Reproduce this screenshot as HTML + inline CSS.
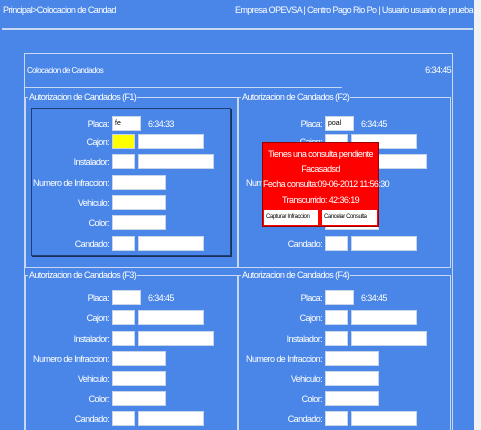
<!DOCTYPE html>
<html><head><meta charset="utf-8"><style>
*{margin:0;padding:0;box-sizing:border-box}
html{width:481px;height:430px;overflow:hidden}
body{width:481px;height:430px;overflow:hidden;background:#4a86e8;font-family:"Liberation Sans",sans-serif;color:#fff;position:relative}
.t{position:absolute;font-size:9px;white-space:nowrap;letter-spacing:-0.6px;line-height:10px}
.r{text-align:right}
.in{position:absolute;background:#fff;border:1px solid #c8d4e8;height:15px}
.ln{position:absolute;background:#c9d8f2}
.fs{position:absolute;border:1px solid #c9d8f2}
.lg{position:absolute;font-size:9px;letter-spacing:-0.6px;background:#4a86e8;padding:0 1px;line-height:10px;white-space:nowrap}
</style></head><body>
<div class="t" style="left:3px;top:5px">Principal&gt;Colocacion de Candad</div>
<div class="t r" style="right:8px;top:5px">Empresa OPEVSA | Centro Pago Rio Po | Usuario usuario de prueba</div>
<div class="ln" style="left:2px;top:28px;width:471px;height:2px"></div>
<div style="position:absolute;left:474px;top:0;width:7px;height:430px;background:#f2f2f2"></div>
<div class="fs" style="left:24px;top:53px;width:429px;height:380px"></div>
<div class="t" style="left:27px;top:66px;font-size:8px">Colocacion de Candados</div>
<div class="t r" style="right:30px;top:65px">6:34:45</div>
<div class="ln" style="left:24px;top:87px;width:318px;height:1px"></div>
<div id="root"></div>
<div id="popup" style="position:absolute;left:262px;top:142px;width:117px;height:85px;background:#f00;border:1px solid #900">
<div class="t" style="position:absolute;left:0;width:115px;text-align:center;top:6px">Tienes una consulta pendiente</div>
<div class="t" style="position:absolute;left:0;width:115px;text-align:center;top:21px">Facasadsd</div>
<div class="t" style="position:absolute;left:0;width:115px;text-align:center;top:36px">Fecha consulta:09-06-2012 11:56:30</div>
<div class="t" style="position:absolute;left:0;width:115px;text-align:center;top:52px">Transcurrido: 42:36:19</div>
<div style="position:absolute;left:1px;top:67px;width:54px;height:15px;background:#fff;color:#000;font-size:6px;line-height:15px;padding-left:2px;letter-spacing:-0.4px">Capturar Infraccion</div>
<div style="position:absolute;left:59px;top:67px;width:55px;height:15px;background:#fff;color:#000;font-size:6px;line-height:15px;padding-left:2px;letter-spacing:-0.4px">Cancelar Consulta</div>
</div>
<script>
const root=document.getElementById('root');
function add(cls,style,text,name,inter){const d=document.createElement('div');d.className=cls;d.style.cssText=style;if(text)d.textContent=text;


root.appendChild(d);return d;}
const panels=[{x:25,y:92,h:171,lbl:'Autorizacion de Candados (F1)',time:'6:34:33',placa:'fe',rows:[124,142,162,183,203,223,244]},
{x:238,y:92,h:171,lbl:'Autorizacion de Candados (F2)',time:'6:34:45',placa:'poal',rows:[124,142,162,183,203,223,244]},
{x:25,y:270,h:165,lbl:'Autorizacion de Candados (F3)',time:'6:34:45',placa:'',rows:[298,318,339,359,379,399,419]},
{x:238,y:270,h:165,lbl:'Autorizacion de Candados (F4)',time:'6:34:45',placa:'',rows:[298,318,339,359,379,399,419]}];
const labels=['Placa','Cajon','Instalador','Numero de Infraccion','Vehiculo','Color','Candado'];
panels.forEach((p,i)=>{
 add('fs',`left:${p.x}px;top:${p.y+5}px;width:213px;height:${p.h}px`,'','fieldset-f'+(i+1),'false');
 add('lg',`left:${p.x+3}px;top:${p.y}px`,p.lbl,'legend-f'+(i+1),'false');
 if(i==0)add('fs',`left:31px;top:108px;width:200px;height:148px;border:1px solid #1f3f7a;box-shadow:1px 1px 0 #1a2f5a`,'','highlight-box','false');
 const ix=p.x+87;
 p.rows.forEach((cy,j)=>{
  add('t r',`left:${p.x}px;width:${84}px;top:${cy-5}px`,labels[j]+':','label-'+labels[j].toLowerCase().replace(/ /g,'-'),'false');
  const top=cy-8;
  if(j==0){add('in',`left:${ix}px;top:${top}px;width:29px;color:#000;font-size:7px;line-height:13px;padding-left:2px`,p.placa,'placa-input','true');
   add('t',`left:${ix+36}px;top:${cy-5}px`,p.time,'placa-time','false');}
  else if(j==1||j==2||j==6){add('in',`left:${ix}px;top:${top}px;width:23px;${(i==0&&j==1)?'background:#ff0;':''}`,'','code-input','true');
   add('in',`left:${ix+26}px;top:${top}px;width:${j==2?76:66}px`,'','desc-input','true');}
  else add('in',`left:${ix}px;top:${top}px;width:54px`,'','text-input','true');
 });
});
document.body.appendChild(document.getElementById('popup'));
</script>
</body></html>
